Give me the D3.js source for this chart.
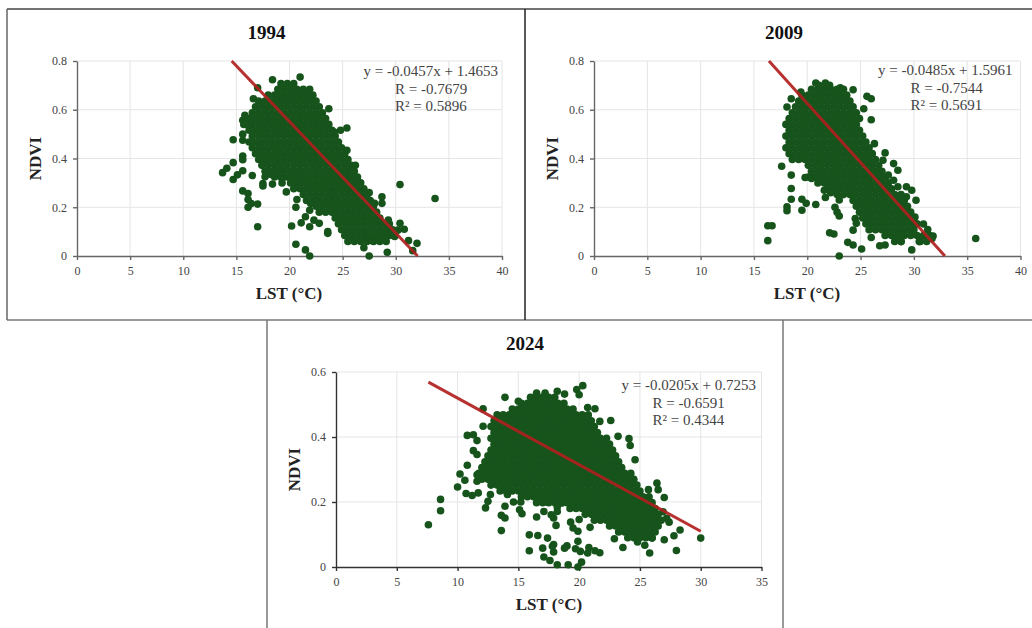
<!DOCTYPE html>
<html>
<head>
<meta charset="utf-8">
<script src="https://cdn.jsdelivr.net/npm/d3@7"></script>
<style>
  html, body { margin: 0; padding: 0; background: #fff; }
  text { font-family: "Liberation Serif", "Times New Roman", serif; }
</style>
</head>
<body>
<div id="chart"></div>
<script>
// Tick labels
const lstTicks40 = [0, 5, 10, 15, 20, 25, 30, 35, 40];
const lstTicks35 = [0, 5, 10, 15, 20, 25, 30, 35];
const ndviTicks08 = [0, 0.2, 0.4, 0.6, 0.8];
const ndviTicks06 = [0, 0.2, 0.4, 0.6];

// Trend line end points [LST, NDVI]
const trend1994 = [[14.56, 0.8], [32.06, 0]];
const trend2009 = [[16.41, 0.8], [32.91, 0]];
const trend2024 = [[7.6, 0.569], [30, 0.11]];

// Equation labels
const eq1994 = ["y = -0.0457x + 1.4653", "R = -0.7679", "R² = 0.5896"];
const eq2009 = ["y = -0.0485x + 1.5961", "R = -0.7544", "R² = 0.5691"];
const eq2024 = ["y = -0.0205x + 0.7253", "R = -0.6591", "R² = 0.4344"];

// Dense part of each cloud, read row by row: [NDVI, [LST, LST, ...]]
const rows1994 = [
  [0.708, [19.2, 19.8, 20.4]],
  [0.684, [18.9, 19.5, 20.1, 20.7, 21.3, 21.9]],
  [0.66, [18, 18.6, 19.2, 19.8, 20.4, 21, 21.6, 22.2]],
  [0.636, [17.1, 17.7, 18.3, 18.9, 19.5, 20.1, 20.7, 21.3, 21.9, 22.5]],
  [0.612, [16.8, 17.4, 18, 18.6, 19.2, 19.8, 20.4, 21, 21.6, 22.2, 22.8]],
  [0.588, [16.5, 17.1, 17.7, 18.3, 18.9, 19.5, 20.1, 20.7, 21.3, 21.9, 22.5, 23.1]],
  [0.564, [16.2, 16.8, 17.4, 18, 18.6, 19.2, 19.8, 20.4, 21, 21.6, 22.2, 22.8, 23.4]],
  [0.54, [15.9, 16.5, 17.1, 17.7, 18.3, 18.9, 19.5, 20.1, 20.7, 21.3, 21.9, 22.5, 23.1, 23.7]],
  [0.516, [16.2, 16.8, 17.4, 18, 18.6, 19.2, 19.8, 20.4, 21, 21.6, 22.2, 22.8, 23.4, 24]],
  [0.492, [16.5, 17.1, 17.7, 18.3, 18.9, 19.5, 20.1, 20.7, 21.3, 21.9, 22.5, 23.1, 23.7, 24.3]],
  [0.468, [16.2, 16.8, 17.4, 18, 18.6, 19.2, 19.8, 20.4, 21, 21.6, 22.2, 22.8, 23.4, 24, 24.6]],
  [0.444, [16.5, 17.1, 17.7, 18.3, 18.9, 19.5, 20.1, 20.7, 21.3, 21.9, 22.5, 23.1, 23.7, 24.3, 24.9]],
  [0.42, [16.8, 17.4, 18, 18.6, 19.2, 19.8, 20.4, 21, 21.6, 22.2, 22.8, 23.4, 24, 24.6, 25.2]],
  [0.396, [17.1, 17.7, 18.3, 18.9, 19.5, 20.1, 20.7, 21.3, 21.9, 22.5, 23.1, 23.7, 24.3, 24.9, 25.5]],
  [0.372, [17.4, 18, 18.6, 19.2, 19.8, 20.4, 21, 21.6, 22.2, 22.8, 23.4, 24, 24.6, 25.2, 25.8, 26.2]],
  [0.348, [17.7, 18.3, 18.9, 19.5, 20.1, 20.7, 21.3, 21.9, 22.5, 23.1, 23.7, 24.3, 24.9, 25.5, 26.1]],
  [0.324, [18.6, 19.2, 19.8, 20.4, 21, 21.6, 22.2, 22.8, 23.4, 24, 24.6, 25.2, 25.8, 26.4]],
  [0.3, [20.1, 20.7, 21.3, 21.9, 22.5, 23.1, 23.7, 24.3, 24.9, 25.5, 26.1, 26.7]],
  [0.276, [20.4, 21, 21.6, 22.2, 22.8, 23.4, 24, 24.6, 25.2, 25.8, 26.4, 27]],
  [0.252, [21.3, 21.9, 22.5, 23.1, 23.7, 24.3, 24.9, 25.5, 26.1, 26.7, 27.3]],
  [0.228, [21.6, 22.2, 22.8, 23.4, 24, 24.6, 25.2, 25.8, 26.4, 27, 27.6]],
  [0.204, [22.5, 23.1, 23.7, 24.3, 24.9, 25.5, 26.1, 26.7, 27.3, 27.9]],
  [0.18, [22.8, 23.4, 24, 24.6, 25.2, 25.8, 26.4, 27, 27.6, 28.2]],
  [0.156, [24.3, 24.9, 25.5, 26.1, 26.7, 27.3, 27.9, 28.5]],
  [0.132, [24.6, 25.2, 25.8, 26.4, 27, 27.6, 28.2, 28.8, 29.4]],
  [0.108, [24.9, 25.5, 26.1, 26.7, 27.3, 27.9, 28.5, 29.1, 29.7]],
  [0.084, [25.2, 25.8, 26.4, 27, 27.6, 28.2, 28.8, 29.4]],
  [0.06, [25.5, 26.1, 26.7, 27.3, 27.9, 28.5, 29.1]]
];

const rows2009 = [
  [0.684, [20.4, 21, 21.6, 22.2, 22.8, 23.4]],
  [0.66, [19.5, 20.1, 20.7, 21.3, 21.9, 22.5, 23.1, 23.7]],
  [0.636, [19.2, 19.8, 20.4, 21, 21.6, 22.2, 22.8, 23.4, 24]],
  [0.612, [18.9, 19.5, 20.1, 20.7, 21.3, 21.9, 22.5, 23.1, 23.7, 24.3]],
  [0.588, [18.6, 19.2, 19.8, 20.4, 21, 21.6, 22.2, 22.8, 23.4, 24, 24.6]],
  [0.564, [18.3, 18.9, 19.5, 20.1, 20.7, 21.3, 21.9, 22.5, 23.1, 23.7, 24.3, 24.9]],
  [0.54, [18, 18.6, 19.2, 19.8, 20.4, 21, 21.6, 22.2, 22.8, 23.4, 24, 24.6]],
  [0.516, [18.3, 18.9, 19.5, 20.1, 20.7, 21.3, 21.9, 22.5, 23.1, 23.7, 24.3, 24.9]],
  [0.492, [18, 18.6, 19.2, 19.8, 20.4, 21, 21.6, 22.2, 22.8, 23.4, 24, 24.6, 25.2]],
  [0.468, [18.3, 18.9, 19.5, 20.1, 20.7, 21.3, 21.9, 22.5, 23.1, 23.7, 24.3, 24.9, 25.5]],
  [0.444, [18, 18.6, 19.2, 19.8, 20.4, 21, 21.6, 22.2, 22.8, 23.4, 24, 24.6, 25.2, 25.8]],
  [0.42, [18.3, 18.9, 19.5, 20.1, 20.7, 21.3, 21.9, 22.5, 23.1, 23.7, 24.3, 24.9, 25.5, 26.1]],
  [0.396, [18.6, 19.2, 19.8, 20.4, 21, 21.6, 22.2, 22.8, 23.4, 24, 24.6, 25.2, 25.8, 26.4]],
  [0.372, [20.1, 20.7, 21.3, 21.9, 22.5, 23.1, 23.7, 24.3, 24.9, 25.5, 26.1, 26.7]],
  [0.348, [20.4, 21, 21.6, 22.2, 22.8, 23.4, 24, 24.6, 25.2, 25.8, 26.4, 27]],
  [0.324, [20.1, 20.7, 21.3, 21.9, 22.5, 23.1, 23.7, 24.3, 24.9, 25.5, 26.1, 26.7, 27.3]],
  [0.3, [21, 21.6, 22.2, 22.8, 23.4, 24, 24.6, 25.2, 25.8, 26.4, 27, 27.6]],
  [0.276, [21.9, 22.5, 23.1, 23.7, 24.3, 24.9, 25.5, 26.1, 26.7, 27.3, 27.9]],
  [0.252, [22.8, 23.4, 24, 24.6, 25.2, 25.8, 26.4, 27, 27.6, 28.2, 28.8]],
  [0.228, [24.3, 24.9, 25.5, 26.1, 26.7, 27.3, 27.9, 28.5, 29.1]],
  [0.204, [24.6, 25.2, 25.8, 26.4, 27, 27.6, 28.2, 28.8, 29.4]],
  [0.18, [24.9, 25.5, 26.1, 26.7, 27.3, 27.9, 28.5, 29.1, 29.7]],
  [0.156, [25.2, 25.8, 26.4, 27, 27.6, 28.2, 28.8, 29.4, 30]],
  [0.132, [25.5, 26.1, 26.7, 27.3, 27.9, 28.5, 29.1, 29.7, 30.3]],
  [0.108, [25.8, 26.4, 27, 27.6, 28.2, 28.8, 29.4, 30]],
  [0.084, [27.3, 27.9, 28.5, 29.1, 29.7, 30.3, 30.9, 31.5]],
  [0.06, [28.2, 28.8, 30.6, 31.2]]
];

const rows2024 = [
  [0.522, [16, 16.5, 17, 17.5, 18]],
  [0.504, [15.25, 15.75, 16.25, 16.75, 17.25, 17.75, 18.25, 18.75]],
  [0.486, [14.5, 15, 15.5, 16, 16.5, 17, 17.5, 18, 18.5, 19, 19.5]],
  [0.468, [13.25, 13.75, 14.25, 14.75, 15.25, 15.75, 16.25, 16.75, 17.25, 17.75, 18.25, 18.75, 19.25, 19.75, 20.25, 20.75]],
  [0.45, [13, 13.5, 14, 14.5, 15, 15.5, 16, 16.5, 17, 17.5, 18, 18.5, 19, 19.5, 20, 20.5, 21]],
  [0.432, [12.75, 13.25, 13.75, 14.25, 14.75, 15.25, 15.75, 16.25, 16.75, 17.25, 17.75, 18.25, 18.75, 19.25, 19.75, 20.25, 20.75, 21.25]],
  [0.414, [13, 13.5, 14, 14.5, 15, 15.5, 16, 16.5, 17, 17.5, 18, 18.5, 19, 19.5, 20, 20.5, 21, 21.5]],
  [0.396, [12.75, 13.25, 13.75, 14.25, 14.75, 15.25, 15.75, 16.25, 16.75, 17.25, 17.75, 18.25, 18.75, 19.25, 19.75, 20.25, 20.75, 21.25, 21.75, 22.25]],
  [0.378, [13, 13.5, 14, 14.5, 15, 15.5, 16, 16.5, 17, 17.5, 18, 18.5, 19, 19.5, 20, 20.5, 21, 21.5, 22, 22.5]],
  [0.36, [12.75, 13.25, 13.75, 14.25, 14.75, 15.25, 15.75, 16.25, 16.75, 17.25, 17.75, 18.25, 18.75, 19.25, 19.75, 20.25, 20.75, 21.25, 21.75, 22.25, 22.75]],
  [0.342, [12.5, 13, 13.5, 14, 14.5, 15, 15.5, 16, 16.5, 17, 17.5, 18, 18.5, 19, 19.5, 20, 20.5, 21, 21.5, 22, 22.5, 23]],
  [0.324, [12.25, 12.75, 13.25, 13.75, 14.25, 14.75, 15.25, 15.75, 16.25, 16.75, 17.25, 17.75, 18.25, 18.75, 19.25, 19.75, 20.25, 20.75, 21.25, 21.75, 22.25, 22.75, 23.25]],
  [0.306, [12, 12.5, 13, 13.5, 14, 14.5, 15, 15.5, 16, 16.5, 17, 17.5, 18, 18.5, 19, 19.5, 20, 20.5, 21, 21.5, 22, 22.5, 23, 23.5]],
  [0.288, [11.75, 12.25, 12.75, 13.25, 13.75, 14.25, 14.75, 15.25, 15.75, 16.25, 16.75, 17.25, 17.75, 18.25, 18.75, 19.25, 19.75, 20.25, 20.75, 21.25, 21.75, 22.25, 22.75, 23.25, 23.75, 24.25]],
  [0.27, [12, 12.5, 13, 13.5, 14, 14.5, 15, 15.5, 16, 16.5, 17, 17.5, 18, 18.5, 19, 19.5, 20, 20.5, 21, 21.5, 22, 22.5, 23, 23.5, 24, 24.5]],
  [0.252, [12.75, 13.25, 13.75, 14.25, 14.75, 15.25, 15.75, 16.25, 16.75, 17.25, 17.75, 18.25, 18.75, 19.25, 19.75, 20.25, 20.75, 21.25, 21.75, 22.25, 22.75, 23.25, 23.75, 24.25, 24.75]],
  [0.234, [13.5, 14, 14.5, 15, 15.5, 16, 16.5, 17, 17.5, 18, 18.5, 19, 19.5, 20, 20.5, 21, 21.5, 22, 22.5, 23, 23.5, 24, 24.5, 25]],
  [0.216, [15.25, 15.75, 16.25, 16.75, 17.25, 17.75, 18.25, 18.75, 19.25, 19.75, 20.25, 20.75, 21.25, 21.75, 22.25, 22.75, 23.25, 23.75, 24.25, 24.75, 25.25, 25.75]],
  [0.198, [16.5, 17, 17.5, 18, 18.5, 19, 19.5, 20, 20.5, 21, 21.5, 22, 22.5, 23, 23.5, 24, 24.5, 25, 25.5, 26]],
  [0.18, [19.25, 19.75, 20.25, 20.75, 21.25, 21.75, 22.25, 22.75, 23.25, 23.75, 24.25, 24.75, 25.25, 25.75, 26.25]],
  [0.162, [20.5, 21, 21.5, 22, 22.5, 23, 23.5, 24, 24.5, 25, 25.5, 26, 26.5]],
  [0.144, [21.25, 21.75, 22.25, 22.75, 23.25, 23.75, 24.25, 24.75, 25.25, 25.75, 26.25, 26.75]],
  [0.126, [22.5, 23, 23.5, 24, 24.5, 25, 25.5, 26, 26.5]],
  [0.108, [23.25, 23.75, 24.25, 24.75, 25.25, 25.75, 26.25]],
  [0.09, [24, 24.5, 25, 25.5, 26]]
];

// Points around the clouds that can be read one by one: [LST, NDVI]
const strays1994 = [
  [13.7, 0.342], [14.1, 0.36], [14.7, 0.383], [14.7, 0.477], [14.7, 0.314], [15.1, 0.333], [15.6, 0.35],
  [15.6, 0.395], [15.6, 0.41], [15.6, 0.475], [15.6, 0.5], [16.5, 0.33], [15.6, 0.267], [16.1, 0.256],
  [16.1, 0.232], [16.1, 0.2], [16.4, 0.215], [17, 0.213], [17, 0.12], [17.5, 0.297], [17.5, 0.287],
  [18.4, 0.295], [19.3, 0.3], [19.3, 0.318], [19.7, 0.263], [20.7, 0.232], [20.6, 0.2], [20.2, 0.123],
  [20.6, 0.048], [21.5, 0.025], [21.9, 0], [21.1, 0.136], [21.5, 0.161], [21.9, 0.12], [21.9, 0.188],
  [22.3, 0.147], [22.8, 0.134], [23.6, 0.1], [23.6, 0.093], [18.4, 0.723], [21, 0.734], [17, 0.69],
  [16.6, 0.645], [15.6, 0.557], [15.8, 0.577], [23.7, 0.604], [24.2, 0.509], [24.8, 0.516], [25.4, 0.525],
  [25.4, 0.434], [30.4, 0.293], [33.7, 0.236], [28.7, 0.243], [28.7, 0.216], [29.3, 0.147], [30.4, 0.134],
  [30.8, 0.11], [31.2, 0.063], [32, 0.052], [31.6, 0.022], [27.5, 0], [29.2, 0.015], [27, 0.034],
  [30.2, 0.106], [29.9, 0.08], [27.7, 0.065], [28.3, 0.065], [27.5, 0.26], [28, 0.216], [15.7, 0.54],
  [17.7, 0.325], [18.2, 0.335], [22, 0.215], [22.5, 0.225]
];

const strays2009 = [
  [16.3, 0.124], [16.7, 0.124], [16.3, 0.063], [17.6, 0.368], [18.1, 0.202], [18.1, 0.186], [18.5, 0.233],
  [18.5, 0.277], [18.5, 0.332], [19.5, 0.233], [19.9, 0.216], [19.5, 0.188], [20.8, 0.211], [21.7, 0.24],
  [22.1, 0.095], [22.5, 0.09], [23, 0], [23.8, 0.056], [24.3, 0.045], [25.1, 0.029], [22.6, 0.2],
  [22.8, 0.18], [23, 0.164], [23, 0.23], [24.3, 0.106], [24.5, 0.154], [24.6, 0.134], [26, 0.076],
  [26.8, 0.042], [27.3, 0.045], [29.8, 0.025], [28.8, 0.059], [35.8, 0.072], [31.8, 0.082], [31.7, 0.072],
  [31.3, 0.109], [30.9, 0.131], [30.5, 0.059], [30.2, 0.229], [29.8, 0.27], [29.3, 0.284], [28.1, 0.379],
  [28.5, 0.352], [27.3, 0.423], [27.1, 0.393], [26.3, 0.461], [26, 0.559], [26, 0.645], [25.6, 0.655],
  [24.3, 0.682], [18.1, 0.611], [18.5, 0.645], [19.4, 0.673], [27.6, 0.332], [28.1, 0.311], [28.5, 0.284],
  [29.3, 0.243], [25.3, 0.604], [23.1, 0.69], [20.8, 0.71], [21.7, 0.71], [29, 0.2], [30.1, 0.16],
  [21.1, 0.7], [22.1, 0.7], [19.8, 0.322], [20.4, 0.318], [21.6, 0.27], [22.2, 0.26]
];

const strays2024 = [
  [7.6, 0.13], [8.6, 0.173], [8.6, 0.208], [10, 0.246], [10.2, 0.286], [10.6, 0.267], [10.8, 0.313],
  [10.7, 0.226], [11.2, 0.22], [11.7, 0.228], [11.6, 0.264], [11.6, 0.284], [10.8, 0.405], [11.3, 0.407],
  [11.6, 0.389], [11.3, 0.358], [11.6, 0.346], [12.1, 0.433], [12.1, 0.487], [12.3, 0.182], [12.5, 0.202],
  [12.7, 0.223], [13.9, 0.522], [13.6, 0.112], [13.6, 0.159], [13.9, 0.151], [13.9, 0.187], [14.1, 0.223],
  [15.1, 0.176], [15.3, 0.164], [15.9, 0.099], [16.6, 0.097], [16.5, 0.154], [15.9, 0.05], [17, 0.058],
  [17.1, 0.031], [17.6, 0.02], [17.4, 0.089], [17.8, 0.064], [17.9, 0.069], [17.9, 0.046], [18.2, 0.007],
  [18.8, 0.058], [19, 0.065], [19.1, 0.007], [19.7, 0.056], [19.9, 0.079], [20.1, 0.048], [19.9, 0],
  [20.2, 0.015], [20.8, 0.06], [20.7, 0.043], [21.3, 0.05], [21.7, 0.044], [20.9, 0.122], [19.9, 0.11],
  [19.5, 0.12], [19.3, 0.138], [20, 0.146], [18.1, 0.128], [17.9, 0.151], [18.2, 0.171], [17.1, 0.171],
  [17.7, 0.161], [18.6, 0.197], [22.9, 0.087], [23.6, 0.06], [24.8, 0.077], [25.4, 0.067], [25.8, 0.043],
  [26, 0.089], [27, 0.084], [27.8, 0.096], [28.3, 0.114], [28, 0.051], [30, 0.089], [27.4, 0.138],
  [27, 0.214], [26.4, 0.258], [25.7, 0.238], [26.5, 0.238], [23.2, 0.402], [24.1, 0.395], [24.2, 0.374],
  [24.6, 0.33], [22.6, 0.451], [21.7, 0.448], [21.3, 0.487], [20.7, 0.491], [20.3, 0.558], [19.8, 0.546],
  [20, 0.53], [18.2, 0.541], [18.8, 0.532], [15, 0.51], [16.5, 0.535], [17.2, 0.535], [14.6, 0.2],
  [15.2, 0.2], [18.2, 0.185], [17.2, 0.2], [22, 0.17], [21.2, 0.16], [26.9, 0.17], [27.2, 0.15]
];

const svg = d3.select("#chart")
    .append("svg")
    .attr("width", 1032)
    .attr("height", 628);

svg.append("rect").attr("width", 1032).attr("height", 628).attr("fill", "#fff");

// Panel frames of the composite figure
const frameLines = [
  [7, 9, 1032, 9, "#444"], [7, 320, 1032, 320, "#777"], [7, 9, 7, 320, "#666"], [525, 9, 525, 320, "#222"],
  [267, 320, 267, 628, "#777"], [783, 320, 783, 628, "#777"]
];
svg.selectAll("line.frame")
    .data(frameLines)
    .enter()
    .append("line")
    .attr("class", "frame")
    .attr("x1", d => d[0]).attr("y1", d => d[1])
    .attr("x2", d => d[2]).attr("y2", d => d[3])
    .attr("stroke", d => d[4])
    .attr("stroke-width", 1.5);

function drawPanel(p) {
    const x = d3.scaleLinear().domain([0, p.xTicks[p.xTicks.length - 1]]).range([p.left, p.right]);
    const y = d3.scaleLinear().domain([0, p.yTicks[p.yTicks.length - 1]]).range([p.bottom, p.top]);
    const g = svg.append("g");

    // Gridlines
    g.selectAll("line.gx").data(p.xTicks.slice(1)).enter().append("line")
        .attr("x1", d => x(d)).attr("x2", d => x(d))
        .attr("y1", p.top).attr("y2", p.bottom)
        .attr("stroke", "#e5e5e5").attr("stroke-width", 1);
    g.selectAll("line.gy").data(p.yTicks.slice(1)).enter().append("line")
        .attr("x1", p.left).attr("x2", p.right)
        .attr("y1", d => y(d)).attr("y2", d => y(d))
        .attr("stroke", "#e5e5e5").attr("stroke-width", 1);

    // Axes
    const xAxis = g.append("g")
        .attr("transform", `translate(0,${p.bottom})`)
        .call(d3.axisBottom(x).tickValues(p.xTicks).tickSize(4).tickPadding(6).tickSizeOuter(0));
    const yAxis = g.append("g")
        .attr("transform", `translate(${p.left},0)`)
        .call(d3.axisLeft(y).tickValues(p.yTicks).tickSize(4).tickPadding(6).tickSizeOuter(0)
            .tickFormat(d => d === 0 ? "0" : d.toFixed(1)));
    [xAxis, yAxis].forEach(a => {
        a.selectAll("path, line").attr("stroke", p.axisColor).attr("stroke-width", 1.4);
        a.selectAll("text").attr("fill", "#444").style("font-size", "12px")
            .style("font-family", '"Liberation Serif", serif');
    });

    // Points
    const points = p.rows.flatMap(r => r[1].map(v => [v, r[0]])).concat(p.strays);
    g.selectAll("circle")
        .data(points)
        .enter()
        .append("circle")
        .attr("cx", d => x(d[0]))
        .attr("cy", d => y(d[1]))
        .attr("r", 3.8)
        .attr("fill", "#16541c");

    // Trend line
    g.append("path")
        .attr("d", d3.line().x(d => x(d[0])).y(d => y(d[1]))(p.trend))
        .attr("fill", "none")
        .attr("stroke", "#b01f1e")
        .attr("stroke-opacity", 0.92)
        .attr("stroke-width", 3);

    // Title and axis labels
    g.append("text").attr("x", p.titleX).attr("y", p.titleY)
        .attr("text-anchor", "middle").attr("font-weight", "bold").attr("font-size", 19).attr("fill", "#111")
        .text(p.title);
    g.append("text").attr("x", p.labelX).attr("y", p.bottom + 43)
        .attr("text-anchor", "middle").attr("font-weight", "bold").attr("font-size", 17).attr("fill", "#222")
        .text("LST (°C)");
    g.append("text")
        .attr("transform", `translate(${p.left - 36},${(p.top + p.bottom) / 2}) rotate(-90)`)
        .attr("text-anchor", "middle").attr("font-weight", "bold").attr("font-size", 17).attr("fill", "#222")
        .text("NDVI");

    // Equation block
    p.eq.forEach((t, i) => {
        g.append("text")
            .attr("x", i === 0 ? p.eqX : p.eqX2)
            .attr("y", p.eqY + i * 17.5)
            .attr("font-size", 15)
            .attr("fill", "#444")
            .text(t);
    });
}

drawPanel({
    title: "1994", titleX: 266.5, titleY: 39, labelX: 289,
    left: 77, right: 502, top: 61, bottom: 256, axisColor: "#666",
    xTicks: lstTicks40, yTicks: ndviTicks08,
    rows: rows1994, strays: strays1994, trend: trend1994,
    eq: eq1994, eqX: 363.5, eqX2: 395, eqY: 76
});
drawPanel({
    title: "2009", titleX: 784, titleY: 39, labelX: 807,
    left: 594, right: 1020.5, top: 61, bottom: 256, axisColor: "#666",
    xTicks: lstTicks40, yTicks: ndviTicks08,
    rows: rows2009, strays: strays2009, trend: trend2009,
    eq: eq2009, eqX: 878, eqX2: 910.5, eqY: 75
});
drawPanel({
    title: "2024", titleX: 525, titleY: 350, labelX: 549,
    left: 336, right: 761.5, top: 372, bottom: 567, axisColor: "#333",
    xTicks: lstTicks35, yTicks: ndviTicks06,
    rows: rows2024, strays: strays2024, trend: trend2024,
    eq: eq2024, eqX: 621.5, eqX2: 652.5, eqY: 390
});
</script>
</body>
</html>
